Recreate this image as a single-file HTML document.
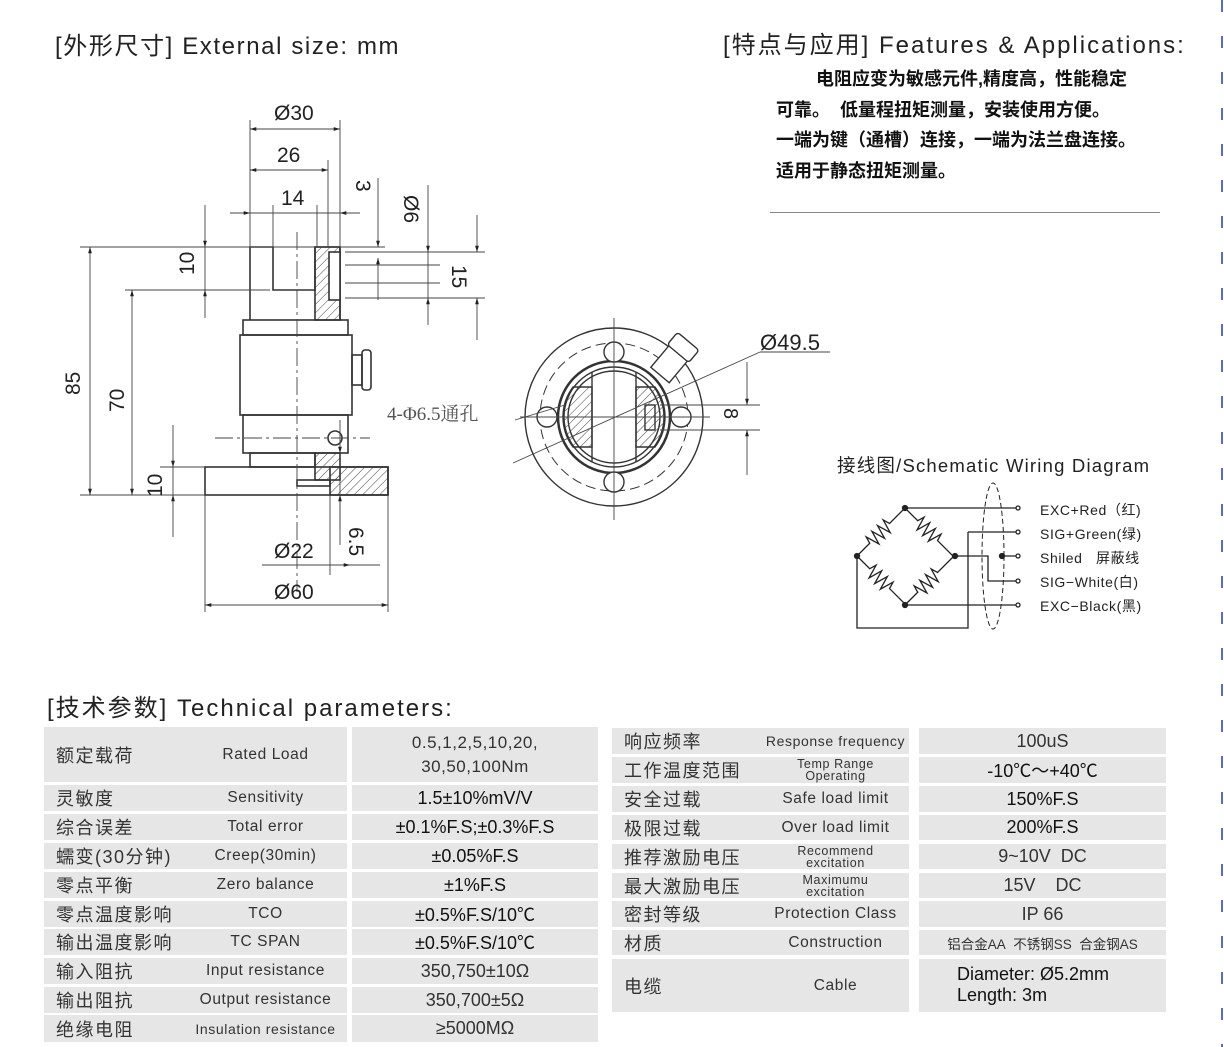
<!DOCTYPE html>
<html><head><meta charset="utf-8"><style>
body{margin:0;width:1224px;height:1047px;background:#fff;position:relative;overflow:hidden;font-family:"Liberation Sans","Noto Sans CJK SC",sans-serif;color:#222}
.a{position:absolute;white-space:nowrap}
.c{position:absolute;background:#e6e6e6;display:flex;align-items:center;font-size:15px;color:#333}
.v{justify-content:center;text-align:center;font-size:18px;color:#111}
.cn{position:absolute;left:12px;font-size:18px;letter-spacing:1.5px}
.en{position:absolute;width:100%;text-align:center;left:0;font-size:15.5px;letter-spacing:.6px}
.sm{font-size:12.5px;line-height:12px}
.hd{font-size:24px;letter-spacing:1.6px}
</style></head><body>
<div class="a hd" style="left:55px;top:26px">[外形尺寸] External size<span>: mm</span></div>
<div class="a hd" style="left:723px;top:25px;letter-spacing:2px">[特点与应用] Features &amp; Applications<span>:</span></div>
<div class="a" style="left:776px;top:64px;font-size:18px;line-height:30.5px;font-weight:bold;color:#111">&nbsp;&nbsp;&nbsp;&nbsp;&nbsp;&nbsp;&nbsp;&nbsp;电阻应变为敏感元件,精度高，性能稳定<br>可靠。&nbsp; 低量程扭矩测量，安装使用方便。<br>一端为键（通槽）连接，一端为法兰盘连接。<br>适用于静态扭矩测量。</div>
<div class="a" style="left:770px;top:212px;width:390px;height:1px;background:#888"></div>
<div class="a" style="left:1221px;top:0;width:2px;height:1047px;background:repeating-linear-gradient(#5a6fb0 0 12px,transparent 12px 36px)"></div>

<svg class="a" style="left:0;top:0" width="1224" height="660" viewBox="0 0 1224 660" fill="none" stroke="#333" stroke-width="1.3">
<defs>
<pattern id="h" width="6" height="6" patternUnits="userSpaceOnUse" patternTransform="rotate(45)"><line x1="0" y1="0" x2="0" y2="6" stroke="#444" stroke-width="1"/></pattern>
<marker id="ar" viewBox="0 0 10 10" refX="10" refY="5" markerWidth="9" markerHeight="7" orient="auto-start-reverse"><path d="M0 2L10 5L0 8z" fill="#222" stroke="none"/></marker>
</defs>
<g stroke="#333" stroke-width="1.6">
<path d="M250 320V247H273V290H315V247H340V320"/>
<rect x="315" y="247" width="25" height="73" fill="url(#h)"/>
<rect x="329" y="252" width="11" height="48" fill="#fff"/>
<rect x="243" y="320" width="105" height="15"/>
<rect x="240" y="335" width="112" height="80"/>
<rect x="243" y="415" width="105" height="38"/>
<rect x="250" y="453" width="65" height="14"/>
<rect x="205" y="467" width="183" height="28"/>
<rect x="330" y="467" width="58" height="28" fill="url(#h)"/>
<rect x="315" y="453" width="25" height="27" fill="url(#h)"/>
<rect x="297" y="480" width="33" height="6"/>
<rect x="352" y="355" width="10" height="30"/><rect x="362" y="350" width="9" height="40" rx="3"/>
<circle cx="335" cy="438" r="7"/>
</g>
<g stroke="#444" stroke-width="0.9">
<line x1="297" y1="232" x2="297" y2="592" stroke-dasharray="18 4 3 4"/>
<line x1="250" y1="120" x2="250" y2="247"/><line x1="340" y1="120" x2="340" y2="247"/><line x1="328" y1="160" x2="328" y2="247"/>
<line x1="250" y1="129" x2="340" y2="129" marker-start="url(#ar)" marker-end="url(#ar)"/>
<line x1="250" y1="170" x2="328" y2="170" marker-start="url(#ar)" marker-end="url(#ar)"/>
<line x1="232" y1="213" x2="360" y2="213"/>
<line x1="230" y1="213" x2="250" y2="213" marker-end="url(#ar)"/><line x1="360" y1="213" x2="340" y2="213" marker-end="url(#ar)"/>
<line x1="273" y1="205" x2="273" y2="247"/><line x1="317" y1="205" x2="317" y2="247"/>
<line x1="80" y1="247" x2="385" y2="247"/><line x1="125" y1="290" x2="270" y2="290"/><line x1="80" y1="495" x2="205" y2="495"/>
<line x1="90" y1="247" x2="90" y2="495" marker-start="url(#ar)" marker-end="url(#ar)"/>
<line x1="132" y1="290" x2="132" y2="495" marker-start="url(#ar)" marker-end="url(#ar)"/>
<line x1="205" y1="205" x2="205" y2="247" marker-end="url(#ar)"/><line x1="205" y1="318" x2="205" y2="290" marker-end="url(#ar)"/><line x1="205" y1="247" x2="205" y2="290"/>
<line x1="173" y1="425" x2="173" y2="467" marker-end="url(#ar)"/><line x1="173" y1="537" x2="173" y2="495" marker-end="url(#ar)"/><line x1="173" y1="467" x2="173" y2="495"/><line x1="160" y1="467" x2="205" y2="467"/>
<line x1="378" y1="178" x2="378" y2="247" marker-end="url(#ar)"/><line x1="378" y1="300" x2="378" y2="258" marker-end="url(#ar)"/>
<line x1="428" y1="185" x2="428" y2="252" marker-end="url(#ar)"/><line x1="428" y1="325" x2="428" y2="298" marker-end="url(#ar)"/><line x1="428" y1="252" x2="428" y2="298"/>
<line x1="477" y1="215" x2="477" y2="252" marker-end="url(#ar)"/><line x1="477" y1="340" x2="477" y2="298" marker-end="url(#ar)"/>
<line x1="345" y1="252" x2="485" y2="252"/><line x1="345" y1="298" x2="485" y2="298"/><line x1="345" y1="265" x2="440" y2="265"/><line x1="345" y1="283" x2="440" y2="283"/>
<line x1="205" y1="495" x2="205" y2="612"/><line x1="388" y1="495" x2="388" y2="612"/>
<line x1="205" y1="605" x2="388" y2="605" marker-start="url(#ar)" marker-end="url(#ar)"/>
<line x1="262" y1="565" x2="380" y2="565"/><line x1="330" y1="565" x2="350" y2="565" marker-end="url(#ar)"/>
<line x1="330" y1="495" x2="330" y2="575"/><line x1="340" y1="480" x2="340" y2="530"/>
<line x1="340" y1="420" x2="340" y2="453" marker-end="url(#ar)"/><line x1="340" y1="545" x2="340" y2="495" marker-end="url(#ar)"/>
<line x1="215" y1="438" x2="370" y2="438" stroke-dasharray="18 4 3 4"/>
</g>
<g fill="#222" stroke="none" font-family="Liberation Sans, sans-serif" font-size="21">
<text x="274" y="120">Ø30</text><text x="277" y="162">26</text><text x="281" y="205">14</text><text x="274" y="558">Ø22</text><text x="274" y="599">Ø60</text>
<text transform="translate(80,395) rotate(-90)">85</text><text transform="translate(124,412) rotate(-90)">70</text>
<text transform="translate(194,275) rotate(-90)">10</text><text transform="translate(162,497) rotate(-90)">10</text>
<text transform="translate(356,180) rotate(90)">3</text><text transform="translate(404,195) rotate(90)">Ø6</text>
<text transform="translate(452,265) rotate(90)">15</text><text transform="translate(349,527) rotate(90)">6.5</text>
</g>
<g stroke="#333" stroke-width="1.4">
<circle cx="614" cy="417" r="89"/>
<circle cx="614" cy="417" r="74" stroke-dasharray="10 5" stroke-width="1"/>
<circle cx="614" cy="417" r="56" stroke-width="2.5"/><circle cx="614" cy="417" r="50"/><circle cx="614" cy="417" r="46"/>
<path d="M573 387A50 50 0 0 0 573 447H592V387Z" fill="url(#h)"/>
<path d="M655 387A50 50 0 0 1 655 447H636V387Z" fill="url(#h)"/>
<line x1="592" y1="372" x2="592" y2="462"/><line x1="636" y1="372" x2="636" y2="462"/>
<circle cx="614" cy="352" r="10" fill="#fff"/><circle cx="547" cy="417" r="10" fill="#fff"/><circle cx="681" cy="417" r="10" fill="#fff"/><circle cx="614" cy="482" r="10" fill="#fff"/>
<rect x="645" y="405" width="10" height="25"/>
<g transform="translate(660,375) rotate(40)"><rect x="-12" y="-30" width="24" height="30" fill="#fff"/><rect x="-14" y="-44" width="28" height="16" rx="3" fill="#fff"/></g>
</g>
<g stroke="#444" stroke-width="0.9">
<line x1="614" y1="318" x2="614" y2="520"/><line x1="520" y1="417" x2="710" y2="417"/>
<line x1="513" y1="463" x2="760" y2="352"/><line x1="760" y1="352" x2="830" y2="352"/>
<line x1="515" y1="420" x2="565" y2="405"/>
<line x1="660" y1="405" x2="760" y2="405"/><line x1="660" y1="430" x2="760" y2="430"/>
<line x1="747" y1="362" x2="747" y2="405" marker-end="url(#ar)"/><line x1="747" y1="475" x2="747" y2="430" marker-end="url(#ar)"/>
</g>
<g fill="#222" stroke="none">
<text x="760" y="350" font-family="Liberation Sans" font-size="22">Ø49.5</text>
<text x="387" y="420" font-family="Liberation Serif, Noto Serif CJK SC, serif" font-size="19" fill="#555">4-Φ6.5通孔</text>
<text transform="translate(724,408) rotate(90)" font-family="Liberation Sans" font-size="20">8</text>
</g>
<text x="837" y="472" fill="#222" stroke="none" font-family="Liberation Sans, Noto Sans CJK SC, sans-serif" font-size="18.5" letter-spacing="1.2">接线图/Schematic Wiring Diagram</text>
<g stroke="#222" stroke-width="1.3">
<path transform="translate(857,556) rotate(-45)" d="M0 0H18l2 -7 4 14 4 -14 4 14 4 -14 4 14 4 -14 2 7H68"/>
<path transform="translate(905,508) rotate(45)" d="M0 0H18l2 -7 4 14 4 -14 4 14 4 -14 4 14 4 -14 2 7H69"/>
<path transform="translate(857,556) rotate(45)" d="M0 0H18l2 -7 4 14 4 -14 4 14 4 -14 4 14 4 -14 2 7H69"/>
<path transform="translate(905,605) rotate(-45)" d="M0 0H18l2 -7 4 14 4 -14 4 14 4 -14 4 14 4 -14 2 7H70"/>
<path d="M905 508H1016M968 532H1016M968 532V628H857V556M955 556H988V581H1016M1002 556H1016M905 605H1016"/>
<ellipse cx="993" cy="556" rx="11" ry="73" stroke-dasharray="5 3" stroke-width="1"/>
<g fill="#fff"><circle cx="1018" cy="508" r="2"/><circle cx="1018" cy="532" r="2"/><circle cx="1018" cy="556" r="2"/><circle cx="1018" cy="581" r="2"/><circle cx="1018" cy="605" r="2"/></g>
<g fill="#222"><circle cx="905" cy="508" r="2.5"/><circle cx="857" cy="556" r="2.5"/><circle cx="955" cy="556" r="2.5"/><circle cx="905" cy="605" r="2.5"/><circle cx="1002" cy="556" r="2.5"/></g>
</g>
<g fill="#222" stroke="none" font-family="Liberation Sans, Noto Sans CJK SC, sans-serif" font-size="14" letter-spacing="0.6">
<text x="1040" y="515">EXC+Red（红)</text><text x="1040" y="539">SIG+Green(绿)</text><text x="1040" y="563">Shiled&#160;&#160; 屏蔽线</text><text x="1040" y="587">SIG−White(白)</text><text x="1040" y="611">EXC−Black(黑)</text>
</g>
</svg>

<div class="a hd" style="left:47px;top:688px;letter-spacing:2px">[技术参数] Technical parameters<span>:</span></div>

<div class="c" style="left:44px;top:727px;width:303px;height:55px"><span class="cn">额定载荷</span><span class="en" style="left:70px">Rated Load</span></div>
<div class="c v" style="left:352px;top:727px;width:246px;height:55px;line-height:24px;font-size:17px;color:#333;letter-spacing:.5px">0.5,1,2,5,10,20,<br>30,50,100Nm</div>
<div class="c" style="left:44px;top:785px;width:303px;height:26px"><span class="cn">灵敏度</span><span class="en" style="left:70px">Sensitivity</span></div><div class="c v" style="left:352px;top:785px;width:246px;height:26px">1.5±10%mV/V</div>
<div class="c" style="left:44px;top:814px;width:303px;height:26px"><span class="cn">综合误差</span><span class="en" style="left:70px">Total error</span></div><div class="c v" style="left:352px;top:814px;width:246px;height:26px">±0.1%F.S;±0.3%F.S</div>
<div class="c" style="left:44px;top:843px;width:303px;height:26px"><span class="cn">蠕变(30分钟)</span><span class="en" style="left:70px">Creep(30min)</span></div><div class="c v" style="left:352px;top:843px;width:246px;height:26px">±0.05%F.S</div>
<div class="c" style="left:44px;top:872px;width:303px;height:26px"><span class="cn">零点平衡</span><span class="en" style="left:70px">Zero balance</span></div><div class="c v" style="left:352px;top:872px;width:246px;height:26px">±1%F.S</div>
<div class="c" style="left:44px;top:901px;width:303px;height:26px"><span class="cn">零点温度影响</span><span class="en" style="left:70px">TCO</span></div><div class="c v" style="left:352px;top:901px;width:246px;height:26px">±0.5%F.S/10℃</div>
<div class="c" style="left:44px;top:929px;width:303px;height:26px"><span class="cn">输出温度影响</span><span class="en" style="left:70px">TC SPAN</span></div><div class="c v" style="left:352px;top:929px;width:246px;height:26px">±0.5%F.S/10℃</div>
<div class="c" style="left:44px;top:958px;width:303px;height:26px"><span class="cn">输入阻抗</span><span class="en" style="left:70px">Input resistance</span></div><div class="c v" style="left:352px;top:958px;width:246px;height:26px;color:#333">350,750±10Ω</div>
<div class="c" style="left:44px;top:987px;width:303px;height:26px"><span class="cn">输出阻抗</span><span class="en" style="left:70px">Output resistance</span></div><div class="c v" style="left:352px;top:987px;width:246px;height:26px;color:#333">350,700±5Ω</div>
<div class="c" style="left:44px;top:1015px;width:303px;height:27px"><span class="cn">绝缘电阻</span><span class="en" style="left:70px;font-size:14px">Insulation resistance</span></div><div class="c v" style="left:352px;top:1015px;width:246px;height:27px;color:#333">≥5000MΩ</div>

<div class="c" style="left:612px;top:728px;width:297px;height:26px"><span class="cn">响应频率</span><span class="en" style="left:75px;font-size:14px">Response frequency</span></div><div class="c v" style="left:919px;top:728px;width:247px;height:26px;color:#333">100uS</div>
<div class="c" style="left:612px;top:757px;width:297px;height:26px"><span class="cn">工作温度范围</span><span class="en sm" style="left:75px">Temp Range<br>Operating</span></div><div class="c v" style="left:919px;top:757px;width:247px;height:26px">-10℃～+40℃</div>
<div class="c" style="left:612px;top:786px;width:297px;height:26px"><span class="cn">安全过载</span><span class="en" style="left:75px">Safe load limit</span></div><div class="c v" style="left:919px;top:786px;width:247px;height:26px">150%F.S</div>
<div class="c" style="left:612px;top:815px;width:297px;height:25px"><span class="cn">极限过载</span><span class="en" style="left:75px">Over load limit</span></div><div class="c v" style="left:919px;top:815px;width:247px;height:25px">200%F.S</div>
<div class="c" style="left:612px;top:844px;width:297px;height:25px"><span class="cn">推荐激励电压</span><span class="en sm" style="left:75px">Recommend<br>excitation</span></div><div class="c v" style="left:919px;top:844px;width:247px;height:25px;color:#333">9~10V&nbsp; DC</div>
<div class="c" style="left:612px;top:873px;width:297px;height:25px"><span class="cn">最大激励电压</span><span class="en sm" style="left:75px">Maximumu<br>excitation</span></div><div class="c v" style="left:919px;top:873px;width:247px;height:25px;color:#333">15V&nbsp;&nbsp;&nbsp; DC</div>
<div class="c" style="left:612px;top:901px;width:297px;height:26px"><span class="cn">密封等级</span><span class="en" style="left:75px">Protection Class</span></div><div class="c v" style="left:919px;top:901px;width:247px;height:26px;color:#333">IP 66</div>
<div class="c" style="left:612px;top:930px;width:297px;height:25px"><span class="cn">材质</span><span class="en" style="left:75px">Construction</span></div><div class="c v" style="left:919px;top:930px;width:247px;height:25px;font-size:13.5px;color:#333">铝合金AA&nbsp; 不锈钢SS&nbsp; 合金钢AS</div>
<div class="c" style="left:612px;top:959px;width:297px;height:53px"><span class="cn">电缆</span><span class="en" style="left:75px">Cable</span></div>
<div class="c" style="left:919px;top:959px;width:247px;height:53px"><span style="position:absolute;left:38px;top:5px;font-size:18px;line-height:21px;color:#111">Diameter: Ø5.2mm<br>Length: 3m</span></div>
</body></html>
